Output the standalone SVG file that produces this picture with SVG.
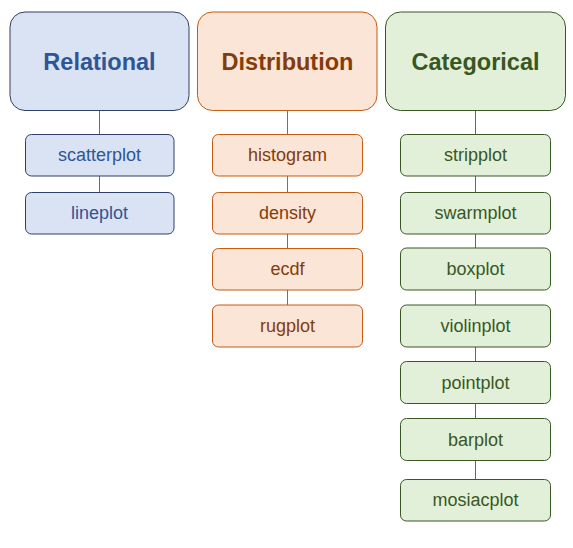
<svg xmlns="http://www.w3.org/2000/svg" width="573" height="548" viewBox="0 0 573 548">
<style>
text{font-family:"Liberation Sans",Arial,sans-serif;text-anchor:middle;dominant-baseline:central}
.h{font-weight:bold;font-size:23.5px}
.s{font-size:18px}
.rel rect{fill:#DAE3F3;stroke:#2F3F66;stroke-width:1}
.rel text{fill:#2F5597}
.dis rect{fill:#FBE5D6;stroke:#C55A11;stroke-width:1}
.dis text{fill:#843C0C}
.cat rect{fill:#E2F0D9;stroke:#385723;stroke-width:1}
.cat text{fill:#385723}
.c line{stroke-width:1}
.cr{stroke:#4A6FB0}
.cd{stroke:#C55A11}
.cc{stroke:#4E7A36}
</style>
<rect width="573" height="548" fill="#fff"/>
<g id="connectors" class="c">
<line class="cr" x1="99.5" y1="110.5" x2="99.5" y2="134"/>
<line class="cr" x1="99.5" y1="176" x2="99.5" y2="192"/>
<line class="cd" x1="287.5" y1="110.5" x2="287.5" y2="134"/>
<line class="cd" x1="287.5" y1="176" x2="287.5" y2="192"/>
<line class="cd" x1="287.5" y1="234" x2="287.5" y2="248"/>
<line class="cd" x1="287.5" y1="290" x2="287.5" y2="305"/>
<line class="cc" x1="475.5" y1="110.5" x2="475.5" y2="134"/>
<line class="cc" x1="475.5" y1="176" x2="475.5" y2="192"/>
<line class="cc" x1="475.5" y1="234" x2="475.5" y2="248"/>
<line class="cc" x1="475.5" y1="290" x2="475.5" y2="305"/>
<line class="cc" x1="475.5" y1="347" x2="475.5" y2="361"/>
<line class="cc" x1="475.5" y1="404" x2="475.5" y2="418"/>
<line class="cc" x1="475.5" y1="461" x2="475.5" y2="479"/>
</g>
<g id="relational" class="rel"><rect x="10" y="12" width="179" height="98.5" rx="15"/><text class="h" x="99.5" y="62">Relational</text></g>
<g id="scatterplot" class="rel"><rect x="25.5" y="134.5" width="148.5" height="41.5" rx="6"/><text class="s" x="99.5" y="155">scatterplot</text></g>
<g id="lineplot" class="rel"><rect x="25.5" y="192.5" width="148.5" height="41.5" rx="6"/><text class="s" x="99.5" y="213">lineplot</text></g>
<g id="distribution" class="dis"><rect x="197.5" y="12" width="179.5" height="98.5" rx="15"/><text class="h" x="287.5" y="62">Distribution</text></g>
<g id="histogram" class="dis"><rect x="212.5" y="134.5" width="150" height="41.5" rx="6"/><text class="s" x="287.5" y="155">histogram</text></g>
<g id="density" class="dis"><rect x="212.5" y="192.5" width="150" height="41.5" rx="6"/><text class="s" x="287.5" y="213">density</text></g>
<g id="ecdf" class="dis"><rect x="212.5" y="248.5" width="150" height="41.5" rx="6"/><text class="s" x="287.5" y="269">ecdf</text></g>
<g id="rugplot" class="dis"><rect x="212.5" y="305" width="150" height="42" rx="6"/><text class="s" x="287.5" y="326">rugplot</text></g>
<g id="categorical" class="cat"><rect x="385.5" y="12" width="180" height="98.5" rx="15"/><text class="h" x="475.5" y="62">Categorical</text></g>
<g id="stripplot" class="cat"><rect x="400.5" y="134.5" width="150" height="41.5" rx="6"/><text class="s" x="475.5" y="155">stripplot</text></g>
<g id="swarmplot" class="cat"><rect x="400.5" y="192.5" width="150" height="41.5" rx="6"/><text class="s" x="475.5" y="213">swarmplot</text></g>
<g id="boxplot" class="cat"><rect x="400.5" y="248" width="150" height="42" rx="6"/><text class="s" x="475.5" y="269">boxplot</text></g>
<g id="violinplot" class="cat"><rect x="400.5" y="305" width="150" height="42" rx="6"/><text class="s" x="475.5" y="326">violinplot</text></g>
<g id="pointplot" class="cat"><rect x="400.5" y="361.5" width="150" height="42" rx="6"/><text class="s" x="475.5" y="382.5">pointplot</text></g>
<g id="barplot" class="cat"><rect x="400.5" y="418.5" width="150" height="42" rx="6"/><text class="s" x="475.5" y="439.5">barplot</text></g>
<g id="mosiacplot" class="cat"><rect x="400.5" y="479.5" width="150" height="41.5" rx="6"/><text class="s" x="475.5" y="500">mosiacplot</text></g>
</svg>
